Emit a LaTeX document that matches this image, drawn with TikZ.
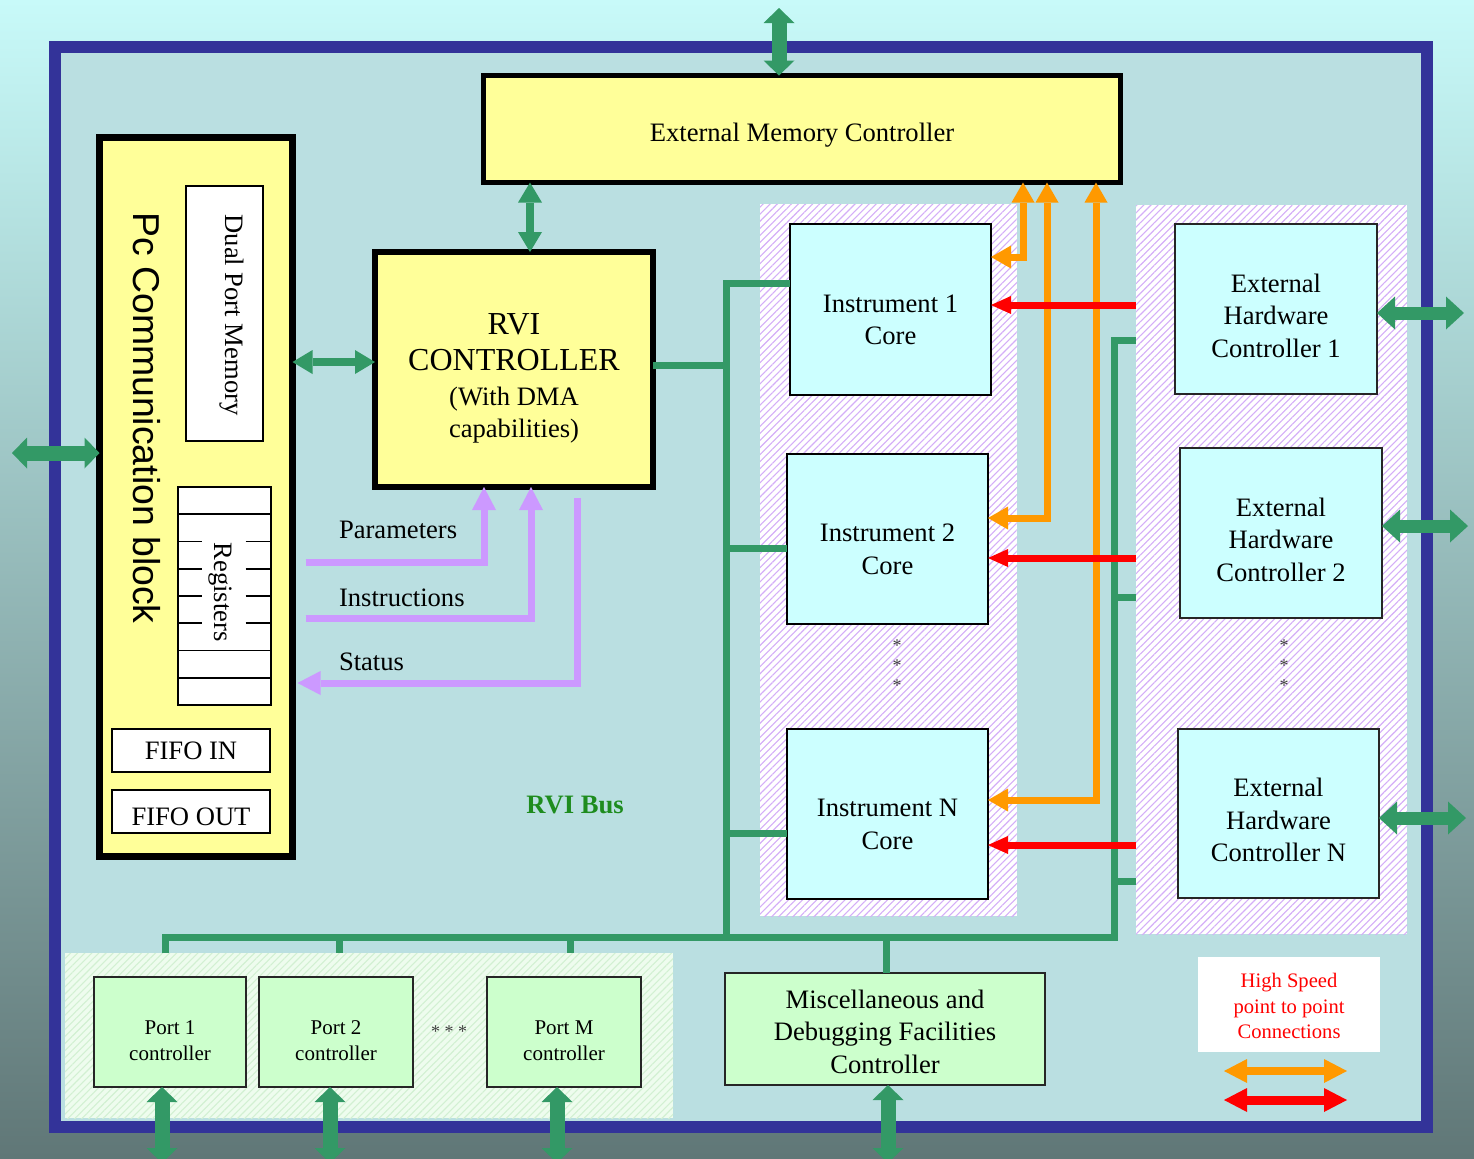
\documentclass[tikz,border=0pt]{standalone}
\usepackage{fontspec}
\setmainfont{Liberation Serif}
\setsansfont{Liberation Sans}
\usetikzlibrary{arrows.meta,patterns.meta,calc}

% palette
\definecolor{frameblue}{HTML}{333399}
\definecolor{boardfill}{HTML}{BADFE1}
\definecolor{ctlyellow}{HTML}{FFFF99}
\definecolor{corecyan}{HTML}{CCFFFF}
\definecolor{portgreen}{HTML}{CCFFCC}
\definecolor{busgreen}{HTML}{339966}
\definecolor{linkorange}{HTML}{FF9900}
\definecolor{linkred}{HTML}{FF0000}
\definecolor{ctrlpurple}{HTML}{CC99FF}
\definecolor{hatchpurple}{HTML}{D4AEF8}
\definecolor{hatchgreen}{HTML}{D2F0D2}
\definecolor{portzonefill}{HTML}{EEFCEE}
\definecolor{busname}{HTML}{1E8C1E}
\definecolor{bgtop}{HTML}{C8FAF9}
\definecolor{bgbottom}{HTML}{607777}

% invisible strut that sets the height of a box's first text line
\newcommand\txtdrop[1]{\rule{0pt}{#1}}

\begin{document}
\begin{tikzpicture}[x=0.5pt,y=0.5pt,line join=miter,
  every node/.style={inner sep=0pt,outer sep=0pt},
  % a rectangle node spanning the corners (#1,#2) and (#3,#4)
  boxat/.style n args={4}{at={({(#1+#3)/2},{(#2+#4)/2})},
    minimum width={(#3-#1)*0.5pt},minimum height={(#2-#4)*0.5pt}},
  body/.style={font=\fontsize{13.3}{16.3}\selectfont,align=center},
  heavybox/.style={draw=black,fill=ctlyellow},
  corebox/.style={body,draw=black,fill=corecyan,line width=1pt},
  hwbox/.style={body,draw=black!85,fill=corecyan,line width=0.8pt},
  portbox/.style={draw=black!85,fill=portgreen,line width=0.8pt,align=center,font=\fontsize{10.5}{13}\selectfont},
  whitebox/.style={draw=black,fill=white,line width=1pt},
  regline/.style={draw=black,line width=0.8pt},
  dots/.style={font=\fontsize{9}{10}\selectfont,align=center,text=black!75},
  zone/.style={preaction={fill=white},pattern={Lines[angle=45,distance=2.5pt,line width=0.55pt]},pattern color=hatchpurple},
  greenzone/.style={preaction={fill=portzonefill},pattern={Lines[angle=45,distance=2.5pt,line width=0.55pt]},pattern color=hatchgreen},
  bus/.style={draw=busgreen,line width=3.5pt},
  bigarrow/.style={busgreen,line width=7.5pt,{Triangle[width=15.5pt,length=7.5pt,line width=0pt]}-{Triangle[width=15.5pt,length=7.5pt,line width=0pt]}},
  midarrow/.style={busgreen,line width=4pt,{Triangle[width=12pt,length=10pt,line width=0pt]}-{Triangle[width=12pt,length=10pt,line width=0pt]}},
  sidearrow/.style={busgreen,line width=6.5pt,{Triangle[width=16.5pt,length=9pt,line width=0pt]}-{Triangle[width=16.5pt,length=9pt,line width=0pt]}},
  ctlarrow/.style={ctrlpurple,line width=3.5pt,-{Triangle[width=12pt,length=11.5pt,line width=0pt]}},
  hsarrow/.style={linkorange,line width=3.5pt,{Triangle[width=11.5pt,length=10pt,line width=0pt]}-{Triangle[width=11.5pt,length=10pt,line width=0pt]}},
  ptparrow/.style={linkred,line width=3.5pt,-{Triangle[width=9pt,length=10pt,line width=0pt]}},
  legorange/.style={linkorange,line width=4pt,{Triangle[width=12pt,length=11.5pt,line width=0pt]}-{Triangle[width=12pt,length=11.5pt,line width=0pt]}},
  legred/.style={linkred,line width=4.5pt,{Triangle[width=12pt,length=11.5pt,line width=0pt]}-{Triangle[width=12pt,length=11.5pt,line width=0pt]}}
]
% page and backdrop
\useasboundingbox (0,0) rectangle (1474,-1158);
\clip (0,0) rectangle (1474,-1158);
\shade[top color=bgtop,bottom color=bgbottom] (0,0) rectangle (1474,-1158);

% board frame
\draw[frameblue,line width=6pt,fill=boardfill] (55,-47) rectangle (1427,-1127);

% grouping zones
\node[zone,boxat={760}{-204}{1017}{-916}] (corezone) {};
\node[zone,boxat={1136}{-205}{1407}{-934}] (hwzone) {};
\node[greenzone,boxat={65}{-953}{673}{-1118}] (portzone) {};

% PC communication block
\node[heavybox,line width=3.5pt,boxat={99.5}{-137.5}{292.5}{-856.5}] (pc) {};
\node[font=\sffamily\fontsize{18.7}{22}\selectfont,rotate=-90] (pctitle) at (147,-418) {Pc Communication block};
\node[whitebox,boxat={186}{-186}{263}{-441}] (dpm) {};
\node[body,rotate=-90] (dpmtext) at (232,-315) {Dual Port Memory};
\node[whitebox,boxat={178}{-487}{271}{-705}] (regs) {};
\foreach \yy in {514.25,650.5,677.75}
  \draw[regline] (regs.west |- 0,-\yy) -- (regs.east |- 0,-\yy);
\foreach \yy in {541.5,568.75,596,623.25}{
  \draw[regline] (regs.west |- 0,-\yy) -- (201.7,-\yy);
  \draw[regline] (245.7,-\yy) -- (regs.east |- 0,-\yy);}
\node[body,rotate=-90] (regtext) at (220,-592) {Registers};
\node[whitebox,body,boxat={112}{-729}{270}{-772}] (fifoin) {FIFO IN};
\node[whitebox,body,boxat={112}{-790}{270}{-833}] (fifoout) {\txtdrop{14pt}FIFO OUT};

% controllers
\node[heavybox,body,line width=2.5pt,boxat={483.5}{-75.5}{1120.5}{-182.5}] (emc) {\txtdrop{15pt}External Memory Controller};
\node[heavybox,line width=3pt,align=center,font=\fontsize{13.3}{16}\selectfont,boxat={375}{-252}{653}{-487}] (rvi)
  {\fontsize{16}{19}\selectfont\txtdrop{19pt}RVI\\[2pt]\fontsize{16}{19}\selectfont CONTROLLER\\[1.5pt]\fontsize{13.3}{16}\selectfont (With DMA\\\fontsize{13.3}{16}\selectfont capabilities)};

% instrument cores and hardware controllers
\node[corebox,boxat={790}{-224}{991}{-395}] (inst1) {\txtdrop{19pt}Instrument 1\\Core};
\node[corebox,boxat={787}{-454}{988}{-624}] (inst2) {\txtdrop{19pt}Instrument 2\\Core};
\node[corebox,boxat={787}{-729}{988}{-899}] (instN) {\txtdrop{19pt}Instrument N\\Core};
\node[hwbox,boxat={1175}{-224}{1377}{-394}] (ehc1) {\txtdrop{16pt}External\\Hardware\\Controller 1};
\node[hwbox,boxat={1180}{-448}{1382}{-618}] (ehc2) {\txtdrop{16pt}External\\Hardware\\Controller 2};
\node[hwbox,boxat={1178}{-729}{1379}{-898}] (ehcN) {\txtdrop{16pt}External\\Hardware\\Controller N};
\node[dots] (coredots) at (897,-666) {*\\*\\*};
\node[dots] (hwdots) at (1284,-666) {*\\*\\*};

% port controllers and misc block
\node[portbox,boxat={94}{-977}{246}{-1087}] (port1) {\txtdrop{16pt}Port 1\\controller};
\node[portbox,boxat={259}{-977}{413}{-1087}] (port2) {\txtdrop{16pt}Port 2\\controller};
\node[portbox,boxat={487}{-977}{641}{-1087}] (portM) {\txtdrop{16pt}Port M\\controller};
\node[dots] (portdots) at (449,-1032) {* * *};
\node[body,draw=black!85,fill=portgreen,line width=0.8pt,boxat={725}{-973}{1045}{-1085}] (misc) {\txtdrop{12pt}Miscellaneous and\\Debugging Facilities\\Controller};
\node[font=\bfseries\fontsize{13.3}{16}\selectfont,text=busname] (busname) at (575,-805) {RVI Bus};

% legend
\node[fill=white,boxat={1198}{-957}{1380}{-1052},text=linkred,align=center,font=\fontsize{10.3}{12.75}\selectfont] (legend) {\txtdrop{9pt}High Speed\\point to point\\Connections};
\coordinate (lgOa) at (1224,-1071); \coordinate (lgOb) at (1347,-1071);
\coordinate (lgRa) at (1224,-1100); \coordinate (lgRb) at (1347,-1100);
\draw[legorange] (lgOa) -- (lgOb);
\draw[legred] (lgRa) -- (lgRb);

% RVI bus
\coordinate (trunkTop) at (726,-283);
\coordinate (trunkBot) at (726,-937);
\coordinate (busLeft) at (165,-937);
\coordinate (rtrunkBot) at (1114,-937);
\coordinate (rtrunkTop) at (1114,-340);
\draw[bus] (inst1.west |- trunkTop) -- (trunkTop) -- (trunkBot);
\draw[bus] (rvi.east |- 0,-365) -- (trunkTop |- 0,-365);
\draw[bus] (trunkTop |- 0,-548) -- (inst2.west |- 0,-548);
\draw[bus] (trunkTop |- 0,-833) -- (instN.west |- 0,-833);
\draw[bus] (portzone.north -| busLeft) -- (busLeft) -- (rtrunkBot) -- (rtrunkTop) -- (hwzone.west |- rtrunkTop);
\draw[bus] (rtrunkTop |- 0,-597) -- (hwzone.west |- 0,-597);
\draw[bus] (rtrunkTop |- 0,-881) -- (hwzone.west |- 0,-881);
\draw[bus] (339,-937) -- (portzone.north -| 339,0);
\draw[bus] (570,-937) -- (portzone.north -| 570,0);
\draw[bus] (886,-937) -- (misc.north -| 886,0);

% external links
\coordinate (topOut) at (779,-8);
\coordinate (leftOut) at (12,-453);
\draw[bigarrow] (topOut) -- (emc.north -| topOut);
\draw[bigarrow] (leftOut) -- (pc.west |- leftOut);
\draw[midarrow] (pc.east |- 0,-362) -- (rvi.west |- 0,-362);
\draw[midarrow] (emc.south -| 530,0) -- (rvi.north -| 530,0);
\draw[sidearrow] (ehc1.east |- 0,-313) -- (1464,-313);
\draw[sidearrow] (ehc2.east |- 0,-526) -- (1468,-526);
\draw[sidearrow] (ehcN.east |- 0,-818) -- (1466,-818);
\draw[bigarrow] (port1.south -| 162,0) -- (162,-1163);
\draw[bigarrow] (port2.south -| 330,0) -- (330,-1163);
\draw[bigarrow] (portM.south -| 557,0) -- (557,-1163);
\draw[bigarrow] (misc.south -| 888,0) -- (888,-1163);

% control lines between PC block and RVI controller
\draw[ctlarrow] ($(pc.east |- 0,-562)+(13,0)$) -| (rvi.south -| 484,0);
\draw[ctlarrow] ($(pc.east |- 0,-618)+(13,0)$) -| (rvi.south -| 531,0);
\draw[ctlarrow,shorten >=2.5pt] ($(rvi.south -| 577,0)+(0,-11)$) |- (pc.east |- 0,-683);
\node[body,anchor=west] (lblpar) at (339,-530) {Parameters};
\node[body,anchor=west] (lblins) at (339,-598) {Instructions};
\node[body,anchor=west] (lblsta) at (339,-662) {Status};

% high speed point to point links
\draw[hsarrow] (inst1.east |- 0,-257) -| (emc.south -| 1023,0);
\draw[hsarrow] (inst2.east |- 0,-518) -| (emc.south -| 1047,0);
\draw[hsarrow] (instN.east |- 0,-800) -| (emc.south -| 1096,0);
\draw[ptparrow] (hwzone.west |- 0,-305) -- (inst1.east |- 0,-305);
\draw[ptparrow] (hwzone.west |- 0,-558) -- (inst2.east |- 0,-558);
\draw[ptparrow] (hwzone.west |- 0,-845) -- (instN.east |- 0,-845);
\end{tikzpicture}
\end{document}
